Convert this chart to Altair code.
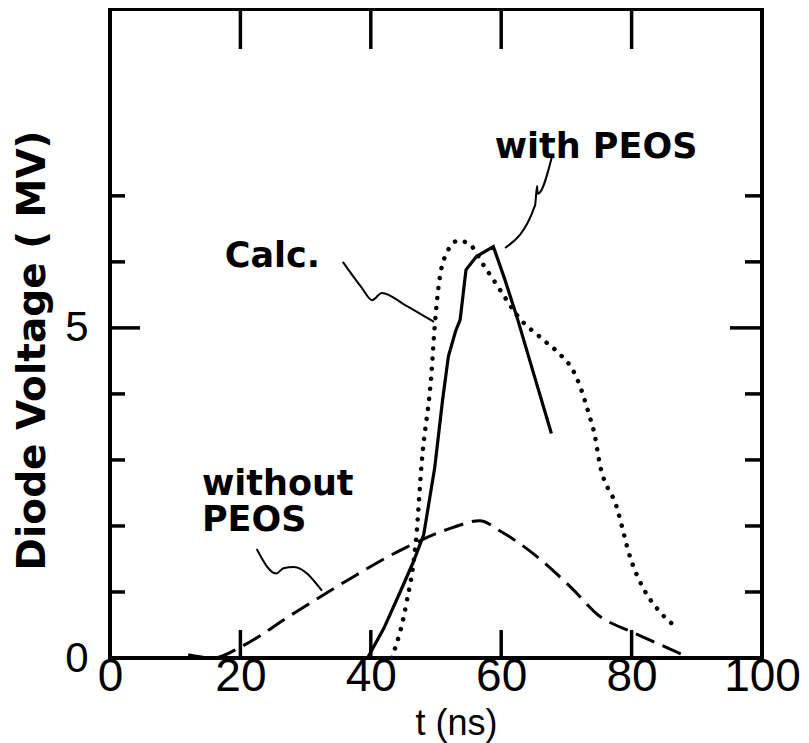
import altair as alt
import pandas as pd

# ---- data ----
t_with = [39.5, 42.0, 44.5, 46.5, 48.1, 49.8, 51.0, 51.9, 53.0, 53.7, 54.6, 56.2, 58.8, 60.5, 62.4, 65.0, 67.7]
v_with = [0.0, 0.45, 1.0, 1.45, 1.86, 2.88, 3.9, 4.57, 4.95, 5.12, 5.88, 6.08, 6.23, 5.75, 5.17, 4.3, 3.40]

t_calc = [43.2, 45.4, 47.0, 47.8, 49.3, 49.8, 50.4, 51.6, 53.4, 55.0, 57.3, 59.8, 62.6, 66.2, 69.3,
          71.0, 72.3, 73.4, 74.4, 75.0, 77.7, 79.9, 82.0, 83.9, 86.3]
v_calc = [0.0, 0.8, 1.86, 2.95, 4.31, 5.02, 5.63, 6.13, 6.32, 6.28, 5.95, 5.58, 5.17, 4.84, 4.57,
          4.36, 4.06, 3.71, 3.35, 3.0, 2.29, 1.49, 1.02, 0.75, 0.51]

t_without = [12.0, 15.8, 20.1, 27.6, 36.3, 44.9, 52.4, 56.7, 59.9, 65.3, 70.7, 75.0, 79.9, 84.2, 89.0]
v_without = [0.05, 0.0, 0.17, 0.64, 1.17, 1.65, 1.97, 2.08, 1.92, 1.55, 1.07, 0.64, 0.4, 0.21, 0.0]

# annotation leader lines
lead_calc_t = [35.7, 38.6, 40.2, 41.7, 45.2, 49.7]
lead_calc_v = [6.0, 5.61, 5.42, 5.53, 5.35, 5.09]
lead_with_t = [60.6, 65.2, 65.6, 65.5, 67.8]
lead_with_v = [6.21, 6.86, 7.03, 7.15, 7.6]
lead_without_t = [22.5, 25.5, 26.6, 28.2, 32.5]
lead_without_v = [1.65, 1.28, 1.36, 1.38, 1.02]

# annotation labels
label_text = ["with PEOS", "Calc.", "without\nPEOS"]
label_t = [59.0, 17.6, 14.1]
label_v = [7.58, 5.92, 2.47]

x_label_values = [0, 20, 40, 60, 80, 100]
y_label_values = [0, 5]
x_ticks = [20, 40, 60, 80]
y_minor_ticks = [1, 2, 3, 4, 6, 7]
y_major_ticks = [5]

X_DOMAIN = [0, 100]
Y_DOMAIN = [0, 9.83]
W, H = 652, 649

df_with = pd.DataFrame({"t": t_with, "v": v_with})
df_calc = pd.DataFrame({"t": t_calc, "v": v_calc})
df_without = pd.DataFrame({"t": t_without, "v": v_without})
df_lead = pd.concat([
    pd.DataFrame({"t": lead_calc_t, "v": lead_calc_v, "g": "calc"}),
    pd.DataFrame({"t": lead_with_t, "v": lead_with_v, "g": "with"}),
    pd.DataFrame({"t": lead_without_t, "v": lead_without_v, "g": "without"}),
])
df_lab = pd.DataFrame({"text": label_text, "t": label_t, "v": label_v})

xs = alt.Scale(domain=X_DOMAIN, nice=False, zero=False)
ys = alt.Scale(domain=Y_DOMAIN, nice=False, zero=False)

x_axis = alt.Axis(values=x_label_values, ticks=False, domain=False, grid=False, format="d",
                  labelFont="Liberation Sans", labelFontSize=46, labelColor="black",
                  labelPadding=-4, title="t (ns)", titleFont="Liberation Sans",
                  titleFontSize=36, titleFontWeight="normal", titleColor="black",
                  titleX=346, titleY=76, titleBaseline="alphabetic", labelFlush=False)
y_axis = alt.Axis(values=y_label_values, ticks=False, domain=False, grid=False, format="d",
                  labelFont="Liberation Sans", labelFontSize=42, labelColor="black",
                  labelPadding=22, title="Diode Voltage ( MV)", titleFont="DejaVu Sans",
                  titleFontSize=39, titleFontWeight="bold", titleColor="black",
                  titleAngle=270, titleX=-66, titleY=341, titleAlign="center",
                  titleBaseline="alphabetic", labelFlush=False)

solid = alt.Chart(df_with).mark_line(color="black", strokeWidth=3.2).encode(
    x=alt.X("t:Q", scale=xs, axis=x_axis),
    y=alt.Y("v:Q", scale=ys, axis=y_axis),
)
dotted = alt.Chart(df_calc).mark_line(color="black", strokeWidth=4.5, strokeDash=[0.1, 10],
                                      strokeCap="round", interpolate="monotone").encode(
    x=alt.X("t:Q", scale=xs), y=alt.Y("v:Q", scale=ys))
dashed = alt.Chart(df_without).mark_line(color="black", strokeWidth=3, strokeDash=[20, 9],
                                         interpolate="monotone").encode(
    x=alt.X("t:Q", scale=xs), y=alt.Y("v:Q", scale=ys))
leaders = alt.Chart(df_lead).mark_line(color="black", strokeWidth=2, interpolate="monotone").encode(
    x=alt.X("t:Q", scale=xs), y=alt.Y("v:Q", scale=ys), detail="g:N", order=alt.Order("t:Q"))
labels = alt.Chart(df_lab).mark_text(font="DejaVu Sans", fontSize=35, fontWeight="bold",
                                     align="left", baseline="alphabetic", color="black",
                                     lineBreak="\n", lineHeight=36).encode(
    x=alt.X("t:Q", scale=xs), y=alt.Y("v:Q", scale=ys), text="text:N")

df_xt = pd.DataFrame({"t": x_ticks})
df_ymin = pd.DataFrame({"v": y_minor_ticks})
df_ymaj = pd.DataFrame({"v": y_major_ticks})

tick_style = dict(color="black", strokeWidth=3.5)
bottom_ticks = alt.Chart(df_xt).mark_rule(**tick_style).encode(
    x=alt.X("t:Q", scale=xs), y=alt.value(H), y2=alt.value(H - 28))
top_ticks = alt.Chart(df_xt).mark_rule(**tick_style).encode(
    x=alt.X("t:Q", scale=xs), y=alt.value(0), y2=alt.value(40))
left_minor = alt.Chart(df_ymin).mark_rule(**tick_style).encode(
    y=alt.Y("v:Q", scale=ys), x=alt.value(0), x2=alt.value(15))
left_major = alt.Chart(df_ymaj).mark_rule(**tick_style).encode(
    y=alt.Y("v:Q", scale=ys), x=alt.value(0), x2=alt.value(30))
right_minor = alt.Chart(df_ymin).mark_rule(**tick_style).encode(
    y=alt.Y("v:Q", scale=ys), x=alt.value(W), x2=alt.value(W - 17))
right_major = alt.Chart(df_ymaj).mark_rule(**tick_style).encode(
    y=alt.Y("v:Q", scale=ys), x=alt.value(W), x2=alt.value(W - 32))

chart = alt.layer(
    solid, dotted, dashed, leaders, labels,
    bottom_ticks, top_ticks, left_minor, left_major, right_minor, right_major,
).properties(
    width=W, height=H,
    autosize=alt.AutoSizeParams(type="none"),
    padding={"left": 102, "top": 1, "right": 39, "bottom": 88},
    background="white",
).configure_view(stroke="black", strokeWidth=4)

chart.save("out.html", embed_options={"renderer": "svg", "actions": False})
